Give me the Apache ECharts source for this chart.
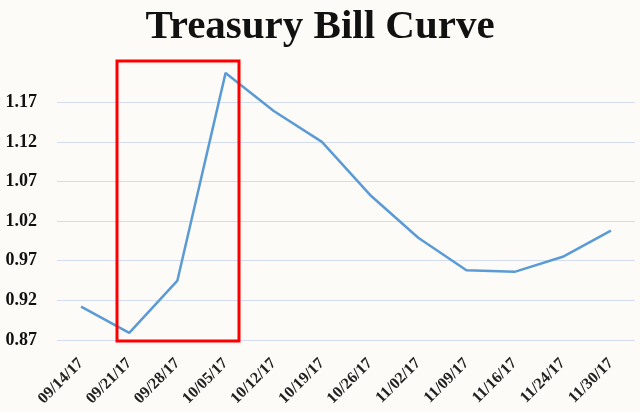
<!DOCTYPE html>
<html><head><meta charset="utf-8">
<script src="https://cdn.jsdelivr.net/npm/echarts@6/dist/echarts.min.js"></script>
<style>html,body{margin:0;padding:0;background:#fcfbf7;}#c{width:640px;height:412px;}</style>
</head><body><div id="c"></div>
<script>
const titleText = "Treasury Bill Curve";
const categories = ["09/14/17","09/21/17","09/28/17","10/05/17","10/12/17","10/19/17","10/26/17","11/02/17","11/09/17","11/16/17","11/24/17","11/30/17"];
const yields = [0.912, 0.879, 0.945, 1.207, 1.159, 1.120, 1.053, 0.999, 0.958, 0.956, 0.975, 1.008];
const yTicks = [0.87, 0.92, 0.97, 1.02, 1.07, 1.12, 1.17];

const chart = echarts.init(document.getElementById('c'), null, {renderer: 'canvas'});
chart.setOption({
  backgroundColor: '#fcfbf7',
  animation: false,
  title: {
    text: titleText, left: 'center', top: 2,
    textStyle: {fontFamily: 'Liberation Serif', fontWeight: 'bold', fontSize: 41, color: '#111'}
  },
  grid: {left: 57, right: 5, top: 63, bottom: 72, containLabel: false},
  xAxis: {
    type: 'category', data: categories, boundaryGap: true,
    axisLine: {show: false}, axisTick: {show: false},
    axisLabel: {rotate: 45, margin: 21, fontFamily: 'Liberation Serif', fontWeight: 'bold', fontSize: 16, color: '#222', interval: 0}
  },
  yAxis: {
    type: 'value', min: 0.87, max: 1.2195, interval: 0.05,
    axisLine: {show: false}, axisTick: {show: false},
    axisLabel: {showMaxLabel: false, margin: 20, fontFamily: 'Liberation Serif', fontWeight: 'bold', fontSize: 18, color: '#111',
      formatter: v => { const t = yTicks.find(x => Math.abs(x - v) < 1e-6); return t === undefined ? '' : t.toFixed(2); }},
    splitLine: {show: true, showMaxLine: false, lineStyle: {color: '#d3ddef', width: 1}}
  },
  series: [{
    type: 'line', data: yields, symbol: 'none',
    lineStyle: {color: '#5b9bd5', width: 2.5}
  }],
  graphic: [{
    type: 'rect', shape: {x: 117, y: 61, width: 122, height: 280},
    style: {fill: 'none', stroke: '#ff0000', lineWidth: 3}, z: 100
  }]
});
</script></body></html>
